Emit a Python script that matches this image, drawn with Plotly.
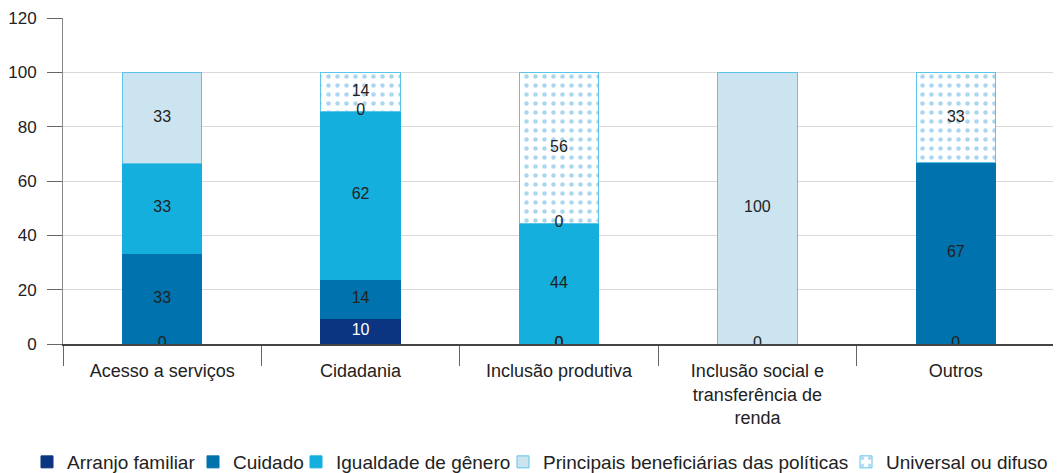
import plotly.graph_objects as go

categories = ["Acesso a serviços", "Cidadania", "Inclusão produtiva",
              "Inclusão social e<br>transferência de<br>renda", "Outros"]
series_names = ["Arranjo familiar", "Cuidado", "Igualdade de gênero",
                "Principais beneficiárias das políticas", "Universal ou difuso"]
arranjo = [0, 9.5, 0, 0, 0]
cuidado = [33.3, 14.3, 0, None, 66.7]
igualdade = [33.3, 61.9, 44.4, None, None]
principais = [33.4, 0, 0, 100, None]
universal = [None, 14.3, 55.6, None, 33.3]
y_ticks = [0, 20, 40, 60, 80, 100, 120]

FONT = "Liberation Sans, Arial, sans-serif"
colors = ["#0b3580", "#0072ad", "#14afdc", "#cce4f0", "#ffffff"]
line_colors = ["#0b3580", "#0072ad", "#14afdc", "#5cc4e8", "#5cc4e8"]
label_colors = ["white", "#222222", "#222222", "#222222", "#222222"]

all_series = [arranjo, cuidado, igualdade, principais, universal]

# page has an 8px body margin; figure is sized to end at the window edge
W, H, OFF = 1053, 465, 8
legend_text_starts = [67, 233, 336, 543, 886]
legend_ids = ["legend", "legend2", "legend3", "legend4", "legend5"]

fig = go.Figure()
for i, (name, vals) in enumerate(zip(series_names, all_series)):
    marker = dict(color=colors[i], line=dict(color=line_colors[i], width=1))
    if i == 4:
        marker["pattern"] = dict(shape=".", fgcolor="#55ade0", bgcolor="white",
                                 size=9, solidity=0.2, fillmode="overlay")
    fig.add_trace(go.Bar(
        x=categories, y=[v if v is not None else 0 for v in vals], name=name,
        marker=marker, width=0.4, hoverinfo="skip", legend=legend_ids[i],
    ))

# labels
lx, ly, lt, lc = [], [], [], []
base = [0.0] * len(categories)
for i, vals in enumerate(all_series):
    for j, v in enumerate(vals):
        if v is None:
            continue
        lx.append(categories[j])
        ly.append(base[j] + v / 2)
        lt.append(str(int(round(v))))
        lc.append(label_colors[i] if v > 0 else "#222222")
        base[j] += v

fig.add_trace(go.Scatter(
    x=lx, y=ly, text=lt, mode="text", showlegend=False, hoverinfo="skip",
    textfont=dict(family=FONT, size=16, color=lc), textposition="middle center",
))

legend_common = dict(orientation="h", xanchor="left", xref="container", yref="container",
                     y=1 - (462 - OFF) / H, yanchor="middle",
                     font=dict(family=FONT, size=19, color="#222222"),
                     itemwidth=30, bgcolor="rgba(0,0,0,0)")
legends = {}
for lid, ts in zip(legend_ids, legend_text_starts):
    legends[lid] = dict(legend_common, x=(ts - 40 - OFF) / W)

fig.update_layout(
    barmode="stack",
    width=W, height=H,
    margin=dict(l=63 - OFF, r=6, t=18 - OFF, b=473 - 344, autoexpand=False),
    paper_bgcolor="white", plot_bgcolor="white",
    font=dict(family=FONT, size=18, color="#222222"),
    showlegend=True,
    **legends,
)
fig.update_xaxes(
    showline=True, linecolor="#444444", linewidth=1.5,
    ticks="outside", tickson="boundaries", ticklen=20, tickcolor="#666666",
    ticklabelstandoff=10,
    tickfont=dict(family=FONT, size=18, color="#222222"),
    showgrid=False,
)
fig.update_yaxes(
    range=[0, 120], tickvals=y_ticks, showgrid=True, gridcolor="#d9d9d9",
    showline=True, linecolor="#888888", linewidth=1,
    ticks="outside", ticklen=15, tickcolor="#666666",
    ticklabelstandoff=7,
    tickfont=dict(family=FONT, size=17, color="#222222"),
    zeroline=False,
)

fig.write_html("out.html")
